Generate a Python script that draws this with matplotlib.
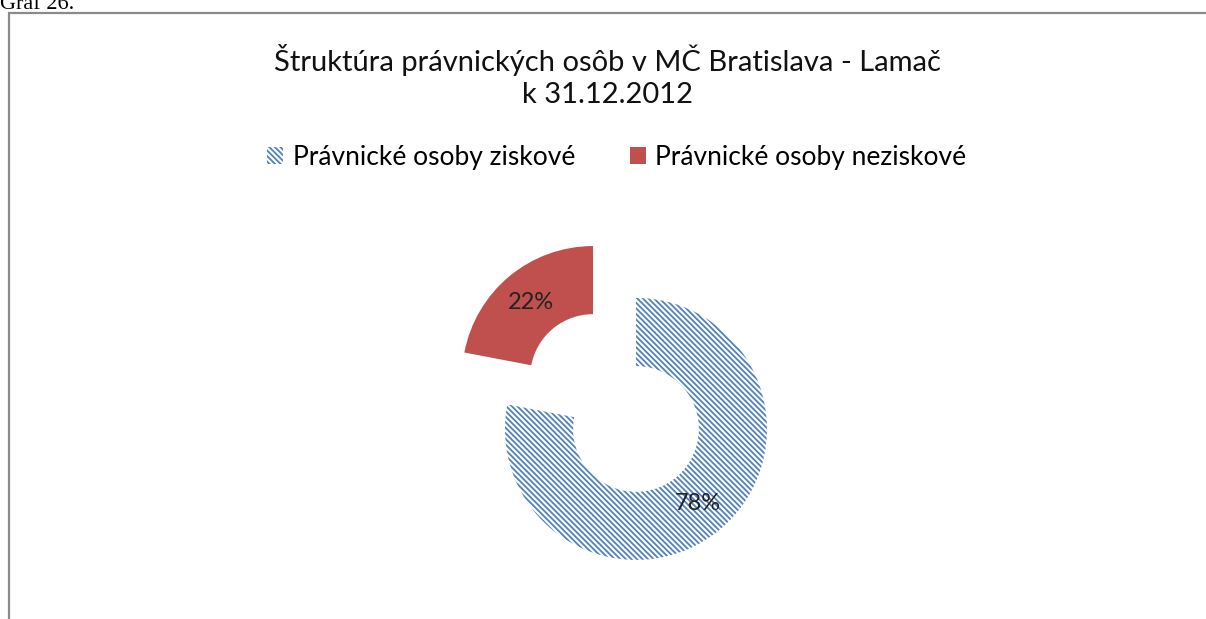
import matplotlib
matplotlib.use("Agg")
import matplotlib.pyplot as plt
from matplotlib.patches import Rectangle

labels = ["Právnické osoby ziskové", "Právnické osoby neziskové"]
shares = [78, 22]
colors = ["white", "#C0504D"]
edges = ["#4F81BD", "#C0504D"]
hatches = ["\\" * 6, None]
title = "Štruktúra právnických osôb v MČ Bratislava - Lamač\nk 31.12.2012"

plt.rcParams["font.family"] = ["Lato", "DejaVu Sans"]
plt.rcParams["hatch.linewidth"] = 1.3

W, H = 1206, 619
fig = plt.figure(figsize=(W / 100, H / 100), dpi=100)

# outer chart frame (right/bottom run off the page)
fig.patches.append(Rectangle((9 / W, -0.1), 1.2, 1 - 13 / H + 0.1,
                             transform=fig.transFigure, fill=False,
                             edgecolor="#8a8a8a", linewidth=1.6))
fig.text(0.0, 1 - 9 / H, "Graf 26.", family="Liberation Serif",
         fontsize=16, va="baseline", ha="left")

ax = fig.add_axes([0, 0, 1, 1])
wedges, texts, autotexts = ax.pie(
    shares, colors=colors, startangle=90, counterclock=False,
    explode=[0.257, 0.257], radius=1.0,
    wedgeprops=dict(width=0.52, linewidth=0),
    autopct="%d%%", pctdistance=0.74,
    textprops=dict(fontsize=17, color="#222222"))
for w, e, h in zip(wedges, edges, hatches):
    w.set_edgecolor(e)
    if h:
        w.set_hatch(h)
        w.set_linewidth(0)

R = 131.0
cx, cy = 614.5, H - 403
ax.set_xlim(-cx / R, (W - cx) / R)
ax.set_ylim(-cy / R, (H - cy) / R)
ax.set_aspect("auto")
ax.axis("off")

fig.text(608 / W, 1 - 76 / H, title, ha="center", va="center",
         fontsize=21, linespacing=1.25, color="#111111")
fig.legend(wedges, labels, loc="center", bbox_to_anchor=(617 / W, 1 - 157 / H),
           ncol=2, frameon=False, fontsize=19, handlelength=0.6,
           handleheight=0.6, handletextpad=0.35, columnspacing=2.1)

fig.savefig("out.png", dpi=100)
